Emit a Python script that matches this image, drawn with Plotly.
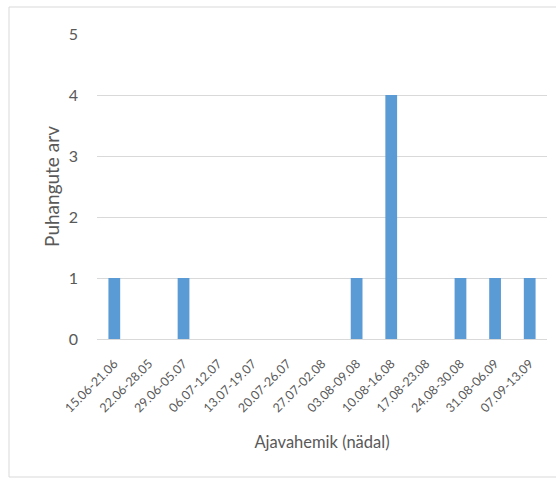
import plotly.graph_objects as go

# Weekly outbreak counts
weeks = [
    "15.06-21.06", "22.06-28.05", "29.06-05.07", "06.07-12.07", "13.07-19.07",
    "20.07-26.07", "27.07-02.08", "03.08-09.08", "10.08-16.08", "17.08-23.08",
    "24.08-30.08", "31.08-06.09", "07.09-13.09",
]
outbreaks = [1, 0, 1, 0, 0, 0, 0, 1, 4, 0, 1, 1, 1]
y_ticks = [0, 1, 2, 3, 4, 5]

W, H = 556, 481
ML, MR, MT, MB = 97, 9, 34, 142
PW, PH = W - ML - MR, H - MT - MB

TEXT = "#595959"
GRID = "#D9D9D9"
FONT = "Lato, 'Open Sans', sans-serif"

fig = go.Figure(
    go.Bar(
        x=weeks,
        y=outbreaks,
        marker=dict(color="#5B9BD5", line=dict(width=0)),
        width=0.34,
        hoverinfo="x+y",
    )
)


def px_x(p):
    return (p - ML) / PW


def px_y(p):
    return (H - MB - p) / PH


# light frame around the chart area
fig.add_shape(
    type="rect", xref="paper", yref="paper",
    x0=px_x(9), x1=px_x(562), y0=px_y(477), y1=px_y(7),
    line=dict(color=GRID, width=1), fillcolor="rgba(0,0,0,0)", layer="below",
)

fig.update_layout(
    width=W,
    height=H,
    margin=dict(l=ML, r=MR, t=MT, b=MB),
    paper_bgcolor="white",
    plot_bgcolor="white",
    font=dict(family=FONT, color=TEXT),
    showlegend=False,
    xaxis=dict(
        type="category",
        tickangle=-45,
        tickfont=dict(size=12.5, color=TEXT),
        showgrid=False,
        showline=False,
        ticks="",
        ticklabelstandoff=14,
        title=dict(text="Ajavahemik (nädal)", font=dict(size=16.5, color=TEXT), standoff=22),
    ),
    yaxis=dict(
        range=[0, 5],
        tickvals=y_ticks,
        tickfont=dict(size=16, color=TEXT),
        showgrid=True,
        gridcolor=GRID,
        gridwidth=1,
        zeroline=True,
        zerolinecolor=GRID,
        zerolinewidth=1,
        showline=False,
        ticks="",
        ticklabelstandoff=18,
        title=dict(text="Puhangute arv", font=dict(size=19, color=TEXT), standoff=4),
    ),
)

fig.write_html("out.html")
